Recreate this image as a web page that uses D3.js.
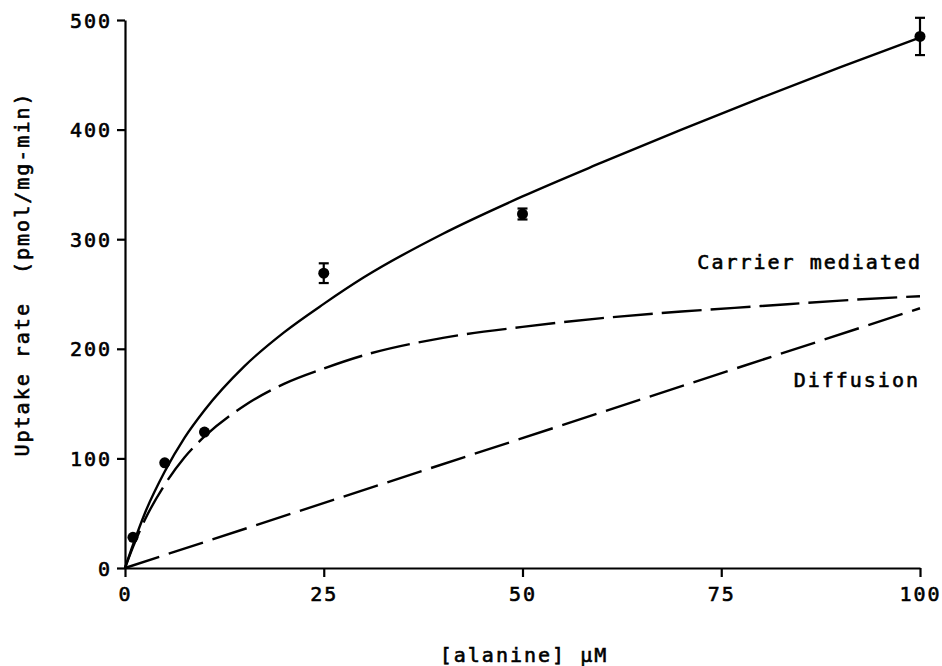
<!DOCTYPE html>
<html>
<head>
<meta charset="utf-8">
<script src="https://cdn.jsdelivr.net/npm/d3@7"></script>
<style>
  html, body { margin: 0; padding: 0; background: #fff; }
  text { font-family: "DejaVu Sans Mono", monospace; fill: #000; stroke: #000; stroke-width: 0.6px; }
</style>
</head>
<body>
<div id="chart"></div>
<script>
// measured points (alanine uM, uptake pmol/mg-min, error)
var concValues = [1, 5, 10, 25, 50, 100];
var uptakeValues = [28, 96, 124, 269, 323, 485];
var uptakeErrors = [0, 0, 0, 9, 5, 17];

// curves
var curveX = [0, 1, 2.5, 5, 7.5, 10, 15, 20, 25, 30, 40, 50, 60, 70, 80, 90, 100];
var totalY = [0, 21, 50, 88, 119, 144, 184, 215, 241, 265, 305, 339, 370, 400, 429, 457, 484];
var carrierY = [0, 19, 44, 76, 101, 120, 148, 168, 182, 194, 210, 220, 228, 234, 239, 244, 248];
var diffusionX = [0, 100];
var diffusionY = [0, 237];

var xTicks = [0, 25, 50, 75, 100];
var yTicks = [0, 100, 200, 300, 400, 500];

var width = 942;
var height = 666;

var marginTop = 20;
var marginRight = 22;
var marginBottom = 98;
var marginLeft = 125;

const svg = d3.select("#chart").append("svg")
    .attr("width", width)
    .attr("height", height);

// scales
var x = d3.scaleLinear()
    .domain([0, 100])
    .range([marginLeft, width - marginRight]);

var y = d3.scaleLinear()
    .domain([0, 500])
    .range([height - marginBottom, marginTop]);

// x axis
const gx = svg.append("g")
    .attr("transform", `translate(0,${height - marginBottom})`)
    .call(d3.axisBottom(x).tickValues(xTicks).tickSize(9).tickSizeOuter(0).tickPadding(10));

// y axis
const gy = svg.append("g")
    .attr("transform", `translate(${marginLeft},0)`)
    .call(d3.axisLeft(y).tickValues(yTicks).tickSize(8).tickSizeOuter(0).tickPadding(5));

svg.selectAll(".domain, .tick line")
    .attr("stroke", "#000")
    .attr("stroke-width", 2.2);

svg.selectAll(".tick text")
    .attr("font-size", 20)
    .attr("letter-spacing", "2px")
    .attr("font-family", "DejaVu Sans Mono, monospace");

gy.selectAll(".tick text").attr("dy", "0.35em");

// lines
var line = d3.line()
    .x(d => x(d[0]))
    .y(d => y(d[1]))
    .curve(d3.curveMonotoneX);

svg.append("path")
    .datum(d3.zip(curveX, totalY))
    .attr("fill", "none")
    .attr("stroke", "#000")
    .attr("stroke-width", 2.4)
    .attr("d", line);

svg.append("path")
    .datum(d3.zip(curveX, carrierY))
    .attr("fill", "none")
    .attr("stroke", "#000")
    .attr("stroke-width", 2.4)
    .attr("stroke-dasharray", "40,9")
    .attr("d", line);

svg.append("path")
    .datum(d3.zip(diffusionX, diffusionY))
    .attr("fill", "none")
    .attr("stroke", "#000")
    .attr("stroke-width", 2.4)
    .attr("stroke-dasharray", "36,10")
    .attr("d", line);

// error bars
var pts = d3.zip(concValues, uptakeValues, uptakeErrors);
var eb = svg.append("g")
    .selectAll("g")
    .data(pts.filter(d => d[2] > 0))
    .join("g");

eb.append("line")
    .attr("x1", d => x(d[0])).attr("x2", d => x(d[0]))
    .attr("y1", d => y(d[1] - d[2])).attr("y2", d => y(d[1] + d[2]))
    .attr("stroke", "#000").attr("stroke-width", 2.2);

eb.selectAll(".cap")
    .data(d => [[d[0], d[1] - d[2]], [d[0], d[1] + d[2]]])
    .join("line")
    .attr("x1", d => x(d[0]) - 5).attr("x2", d => x(d[0]) + 5)
    .attr("y1", d => y(d[1])).attr("y2", d => y(d[1]))
    .attr("stroke", "#000").attr("stroke-width", 2.2);

// points
svg.append("g")
    .selectAll("circle")
    .data(pts)
    .join("circle")
    .attr("cx", d => x(d[0]))
    .attr("cy", d => y(d[1]))
    .attr("r", 5.5)
    .attr("fill", "#000");

// labels
svg.append("text")
    .attr("x", 922)
    .attr("y", 262)
    .attr("dy", "0.35em")
    .attr("text-anchor", "end")
    .attr("font-size", 20)
    .attr("letter-spacing", "2px")
    .text("Carrier mediated");

svg.append("text")
    .attr("x", 920)
    .attr("y", 380)
    .attr("dy", "0.35em")
    .attr("text-anchor", "end")
    .attr("font-size", 20)
    .attr("letter-spacing", "2px")
    .text("Diffusion");

svg.append("text")
    .attr("x", 524)
    .attr("y", 655)
    .attr("dy", "0.35em")
    .attr("text-anchor", "middle")
    .attr("font-size", 20)
    .attr("letter-spacing", "2px")
    .text("[alanine] \u00b5M");

svg.append("text")
    .attr("transform", "translate(22,274) rotate(-90)")
    .attr("dy", "0.35em")
    .attr("text-anchor", "middle")
    .attr("font-size", 20)
    .attr("letter-spacing", "2px")
    .style("white-space", "pre")
    .text("Uptake rate  (pmol/mg-min)");
</script>
</body>
</html>
